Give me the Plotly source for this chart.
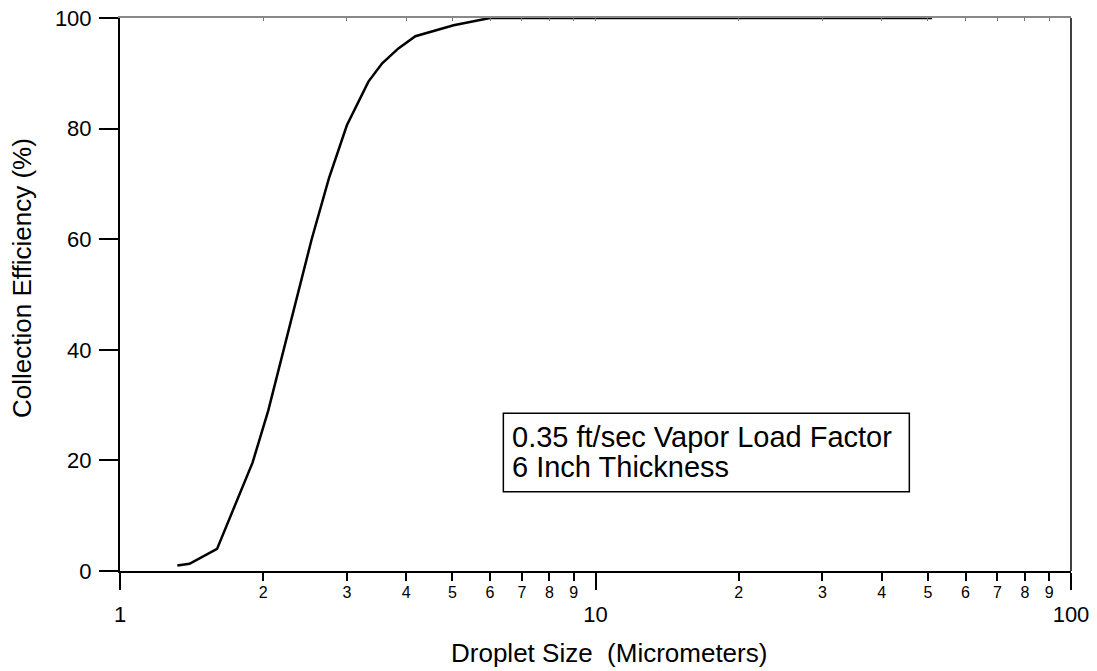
import plotly.graph_objects as go

# Data
droplet_um = [1.32, 1.40, 1.60, 1.90, 2.05, 2.20, 2.35, 2.53, 2.75, 3.00, 3.33, 3.56, 3.85, 4.18, 5.03, 6.0, 10.0, 20.0, 51.0]
efficiency = [1.0, 1.3, 4.0, 19.6, 29.0, 39.5, 49.0, 60.0, 71.0, 80.6, 88.5, 91.8, 94.5, 96.7, 98.7, 100.0, 100.0, 100.0, 100.0]

major_x = [1, 10, 100]
major_x_text = ["1", "10", "100"]
minor_x = [2, 3, 4, 5, 6, 7, 8, 9, 20, 30, 40, 50, 60, 70, 80, 90]
minor_x_text = ["2", "3", "4", "5", "6", "7", "8", "9", "2", "3", "4", "5", "6", "7", "8", "9"]
y_ticks = [0, 20, 40, 60, 80, 100]

box_lines = ["0.35 ft/sec Vapor Load Factor", "6 Inch Thickness"]

FONT = "Arial, Liberation Sans, sans-serif"

fig = go.Figure()
fig.add_trace(go.Scatter(
    x=droplet_um, y=efficiency, mode="lines",
    line=dict(color="black", width=2.5),
    showlegend=False, hoverinfo="skip",
))
# invisible traces to activate overlay axes
fig.add_trace(go.Scatter(x=[1], y=[0], xaxis="x2", mode="markers", marker=dict(opacity=0), showlegend=False, hoverinfo="skip"))
fig.add_trace(go.Scatter(x=[1], y=[0], xaxis="x3", mode="markers", marker=dict(opacity=0), showlegend=False, hoverinfo="skip"))

fig.update_layout(
    width=1097, height=671,
    margin=dict(l=120, r=26, t=18, b=100, autoexpand=False),
    paper_bgcolor="white", plot_bgcolor="white",
    font=dict(family=FONT, color="black"),
    xaxis=dict(
        type="log", range=[0, 2], automargin=False,
        tickvals=major_x, ticktext=major_x_text,
        ticks="outside", ticklen=17, tickwidth=1.5, tickcolor="black",
        tickfont=dict(size=22, family=FONT),
        ticklabelstandoff=6,
        showline=True, linecolor="black", linewidth=2,
        showgrid=False, zeroline=False,
    ),
    xaxis2=dict(
        type="log", range=[0, 2], overlaying="x", anchor="y", side="bottom", automargin=False,
        tickvals=minor_x, ticktext=minor_x_text,
        ticks="outside", ticklen=9, tickwidth=1.5, tickcolor="black",
        tickfont=dict(size=16, family=FONT),
        ticklabelstandoff=-2,
        showline=False, showgrid=False, zeroline=False,
    ),
    xaxis3=dict(
        type="log", range=[0, 2], overlaying="x", anchor="y", side="top", automargin=False,
        tickvals=minor_x + major_x,
        ticks="inside", ticklen=3, tickwidth=1, tickcolor="#777",
        showticklabels=False,
        showline=True, linecolor="#888", linewidth=1.5,
        showgrid=False, zeroline=False,
    ),
    yaxis=dict(
        range=[0, 100], automargin=False,
        tickvals=y_ticks,
        ticks="outside", ticklen=19, tickwidth=1.5, tickcolor="black",
        tickfont=dict(size=22, family=FONT),
        ticklabelstandoff=3,
        showline=True, linecolor="black", linewidth=2,
        showgrid=False, zeroline=False,
    ),
    shapes=[
        dict(type="line", xref="paper", yref="paper", x0=1, x1=1, y0=0, y1=1,
             line=dict(color="black", width=1.5)),
        dict(type="rect", xref="paper", yref="paper", x0=0.4031, x1=0.8300, y0=0.1434, y1=0.2852,
             line=dict(color="black", width=1.5), fillcolor="white", layer="above"),
    ],
    annotations=[
        dict(text="Droplet Size\u00a0 (Micrometers)", xref="paper", yref="paper",
             x=0.5137, y=-0.1483, xanchor="center", yanchor="middle",
             showarrow=False, font=dict(size=26, family=FONT)),
        dict(text="Collection Efficiency (%)", xref="paper", yref="paper",
             x=-0.103, y=0.530, xanchor="center", yanchor="middle", textangle=-90,
             showarrow=False, font=dict(size=26, family=FONT)),
        dict(text=box_lines[0], xref="paper", yref="paper", x=0.4098, y=0.2429,
             xanchor="left", yanchor="middle", showarrow=False,
             font=dict(size=29, family=FONT)),
        dict(text=box_lines[1], xref="paper", yref="paper", x=0.4098, y=0.1886,
             xanchor="left", yanchor="middle", showarrow=False,
             font=dict(size=29, family=FONT)),
    ],
)

fig.write_html("out.html", config={"displayModeBar": False},
               post_script="document.body.style.margin='0';")
